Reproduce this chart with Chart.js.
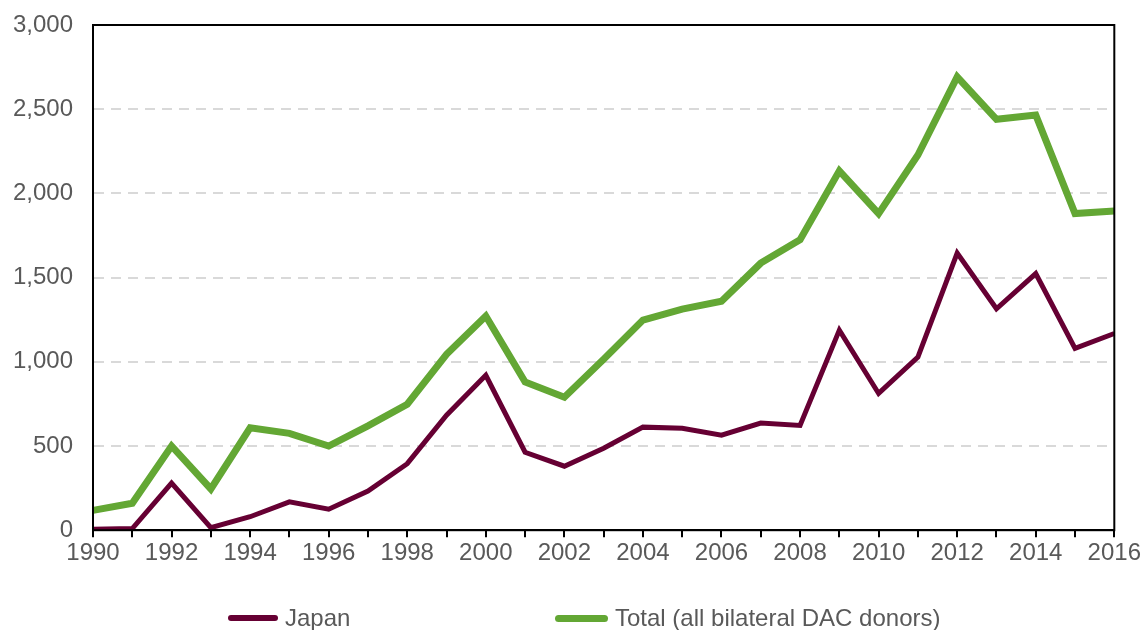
<!DOCTYPE html>
<html>
<head>
<meta charset="utf-8">
<script src="https://cdn.jsdelivr.net/npm/chart.js@4"></script>
<style>
    body { margin: 0; background: #fff; }
    #wrap { position: relative; width: 1143px; height: 630px; }
    .leg { position: absolute; top: 604px; height: 28px; display: flex; align-items: center;
           font-family: "Liberation Sans", Arial, sans-serif; font-size: 24px; color: #595959; }
    .leg span.swatch { display: inline-block; border-radius: 4px; margin-right: 7px; }
</style>
</head>
<body>
<div id="wrap">
    <canvas id="lineChart"></canvas>
    <div class="leg" style="left:228px"><span class="swatch" style="width:50px;height:6px;background:#660033"></span>Japan</div>
    <div class="leg" style="left:555px"><span class="swatch" style="width:53px;height:7px;background:#63a734"></span>Total (all bilateral DAC donors)</div>
</div>
<script>
// data
const years = [
    "1990", "1991", "1992", "1993", "1994", "1995", "1996", "1997", "1998",
    "1999", "2000", "2001", "2002", "2003", "2004", "2005", "2006", "2007",
    "2008", "2009", "2010", "2011", "2012", "2013", "2014", "2015", "2016",
];
const japan = [
    5, 10, 280, 15, 80, 168, 125, 232, 395, 683, 920, 463, 380, 487, 612,
    605, 564, 636, 622, 1188, 812, 1028, 1646, 1315, 1524, 1080, 1168,
];
const totalDac = [
    118, 160, 500, 245, 608, 575, 500, 620, 748, 1045, 1272, 880, 790, 1015,
    1248, 1313, 1360, 1586, 1725, 2134, 1880, 2228, 2692, 2440, 2466, 1880, 1895,
];
const yTicks = [0, 500, 1000, 1500, 2000, 2500, 3000];

const tickFont = { family: "'Liberation Sans', Arial, sans-serif", size: 24 };

// black frame round the plot
const framePlugin = {
    id: "frame",
    afterDraw(chart) {
        const { ctx, chartArea: a } = chart;
        ctx.save();
        ctx.strokeStyle = "#000";
        ctx.lineWidth = 2;
        ctx.strokeRect(a.left, a.top, a.right - a.left, a.bottom - a.top);
        ctx.restore();
    },
};

function createChart() {
    const ctx = document.getElementById("lineChart").getContext("2d");

    new Chart(ctx, {
        type: "line",
        data: {
            labels: years,
            datasets: [
                {
                    label: "Japan",
                    data: japan,
                    borderColor: "#660033",
                    backgroundColor: "#660033",
                    borderWidth: 5,
                    pointRadius: 0,
                    tension: 0,
                },
                {
                    label: "Total (all bilateral DAC donors)",
                    data: totalDac,
                    borderColor: "#63a734",
                    backgroundColor: "#63a734",
                    borderWidth: 7,
                    pointRadius: 0,
                    tension: 0,
                },
            ],
        },
        options: {
            responsive: true,
            maintainAspectRatio: false,
            animation: false,
            layout: {
                padding: { left: 0, right: 28, top: 25, bottom: 60 },
            },
            plugins: {
                legend: { display: false },
                tooltip: { enabled: false },
            },
            scales: {
                x: {
                    grid: {
                        drawOnChartArea: false,
                        color: "#000",
                        lineWidth: 2,
                        tickLength: 7,
                    },
                    border: { color: "#000", width: 2 },
                    ticks: {
                        autoSkip: false,
                        maxRotation: 0,
                        color: "#595959",
                        font: tickFont,
                        padding: 2,
                        callback: function (value, index) {
                            return index % 2 === 0 ? years[index] : "";
                        },
                    },
                },
                y: {
                    min: 0,
                    max: 3000,
                    afterBuildTicks: (axis) => {
                        axis.ticks = yTicks.map((v) => ({ value: v }));
                    },
                    afterFit: (axis) => {
                        axis.width = 93;
                    },
                    grid: {
                        color: "#d9d9d9",
                        lineWidth: 2,
                        tickLength: 20,
                        tickColor: "rgba(0,0,0,0)",
                    },
                    border: { color: "#000", width: 2, dash: [10, 7] },
                    ticks: {
                        color: "#595959",
                        font: tickFont,
                        padding: 0,
                        callback: (v) => v.toLocaleString("en-US"),
                    },
                },
            },
        },
        plugins: [framePlugin],
    });
}

createChart();
</script>
</body>
</html>
